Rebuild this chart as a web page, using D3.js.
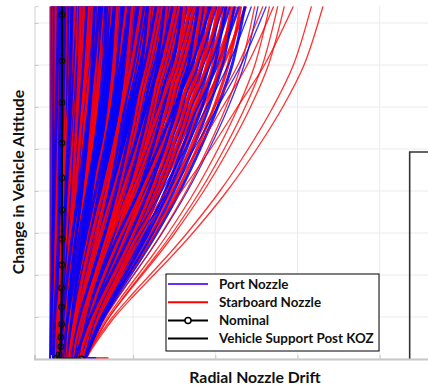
<!DOCTYPE html>
<html>
<head>
<meta charset="utf-8">
<script src="https://cdn.jsdelivr.net/npm/d3@7"></script>
<style>
  body { margin: 0; background: #fff; }
  svg { display: block; }
</style>
</head>
<body>
<svg id="chart"></svg>
<script>
// altitude levels where every trajectory is sampled
const altitudeLevels = [0, 0.25, 0.5, 1, 1.5, 2, 2.5, 3, 4, 5, 6, 7, 8.4];
// fraction of the total drift reached at each level: 0 = early lean, 1 = late lean
const driftShapes = [
  [0, 0.025, 0.055, 0.12, 0.20, 0.285, 0.37, 0.45, 0.595, 0.72, 0.83, 0.92, 1],
  [0, 0.01, 0.025, 0.065, 0.115, 0.175, 0.24, 0.31, 0.46, 0.60, 0.73, 0.86, 1]
];

// [drift at lift-off, drift at top of plot, shape]
const portRuns = [[0.00,0.00,0],[0.03,0.02,1],[0.01,0.04,0],[0.06,0.05,1],[0.02,0.07,0],[0.00,0.09,1],[0.04,0.10,0],[0.08,0.12,1],[0.01,0.14,0],[0.05,0.16,1],[0.03,0.17,0],[0.10,0.19,1],[0.02,0.21,0],[0.07,0.23,1],[0.00,0.25,0],[0.12,0.26,1],[0.04,0.28,0],[0.09,0.30,1],[0.06,0.32,0],[0.02,0.34,1],[0.11,0.35,0],[0.05,0.37,1],[0.14,0.39,0],[0.08,0.41,1],[0.03,0.43,0],[0.13,0.44,1],[0.07,0.46,0],[0.16,0.48,1],[0.10,0.50,0],[0.04,0.52,1],[0.15,0.53,0],[0.09,0.55,1],[0.18,0.57,0],[0.12,0.59,1],[0.06,0.61,0],[0.17,0.62,1],[0.11,0.64,0],[0.20,0.66,1],[0.14,0.68,0],[0.08,0.70,1],[0.19,0.71,0],[0.13,0.73,1],[0.22,0.75,0],[0.16,0.77,1],[0.10,0.79,0],[0.21,0.80,1],[0.15,0.82,0],[0.24,0.84,1],[0.18,0.86,0],[0.12,0.88,1],[0.23,0.89,0],[0.17,0.91,1],[0.26,0.93,0],[0.20,0.95,1],[0.14,0.97,0],[0.25,0.98,1],[0.19,1.00,0],[0.28,1.02,1],[0.22,1.04,0],[0.16,1.06,1],[0.27,1.07,0],[0.21,1.09,1],[0.30,1.11,0],[0.24,1.13,1],[0.18,1.15,0],[0.29,1.16,1],[0.23,1.18,0],[0.32,1.20,1],[0.26,1.22,0],[0.20,1.24,1],[0.31,1.26,0],[0.25,1.28,1],[0.34,1.30,0],[0.28,1.32,1],[0.22,1.34,0],[0.33,1.36,1],[0.27,1.38,0],[0.36,1.40,1],[0.30,1.42,0],[0.24,1.44,1],[0.35,1.46,0],[0.29,1.48,1],[0.38,1.50,0],[0.32,1.53,1],[0.26,1.55,0],[0.37,1.57,1],[0.31,1.59,0],[0.39,1.62,1],[0.34,1.64,0],[0.28,1.66,1],[0.38,1.69,0],[0.33,1.71,1],[0.40,1.74,0],[0.36,1.76,1],[0.30,1.79,0],[0.39,1.82,1],[0.35,1.85,0],[0.41,1.88,1],[0.37,1.91,0],[0.33,1.94,1],[0.40,1.97,0],[0.38,2.01,1],[0.42,2.05,0],[0.36,2.09,1],[0.41,2.13,0],[0.39,2.18,1],[0.42,2.23,0],[0.40,2.29,1],[0.41,2.36,0],[0.42,2.44,1],[0.40,2.52,0],[0.42,2.62,1]];
const starboardRuns = [[0.02,0.01,1],[0.00,0.03,0],[0.05,0.06,1],[0.01,0.08,0],[0.07,0.11,1],[0.03,0.13,0],[0.00,0.15,1],[0.09,0.18,0],[0.04,0.20,1],[0.02,0.22,0],[0.11,0.24,1],[0.06,0.27,0],[0.01,0.29,1],[0.10,0.31,0],[0.05,0.33,1],[0.13,0.36,0],[0.08,0.38,1],[0.03,0.40,0],[0.12,0.42,1],[0.07,0.45,0],[0.15,0.47,1],[0.10,0.49,0],[0.05,0.51,1],[0.14,0.54,0],[0.09,0.56,1],[0.17,0.58,0],[0.12,0.60,1],[0.07,0.63,0],[0.16,0.65,1],[0.11,0.67,0],[0.19,0.69,1],[0.14,0.72,0],[0.09,0.74,1],[0.18,0.76,0],[0.13,0.78,1],[0.21,0.81,0],[0.16,0.83,1],[0.11,0.85,0],[0.20,0.87,1],[0.15,0.90,0],[0.23,0.92,1],[0.18,0.94,0],[0.13,0.96,1],[0.22,0.99,0],[0.17,1.01,1],[0.25,1.03,0],[0.20,1.05,1],[0.15,1.08,0],[0.24,1.10,1],[0.19,1.12,0],[0.27,1.14,1],[0.22,1.17,0],[0.17,1.19,1],[0.26,1.21,0],[0.21,1.23,1],[0.29,1.25,0],[0.24,1.27,1],[0.19,1.29,0],[0.28,1.31,1],[0.23,1.33,0],[0.31,1.35,1],[0.26,1.37,0],[0.21,1.39,1],[0.30,1.41,0],[0.25,1.43,1],[0.33,1.45,0],[0.28,1.47,1],[0.23,1.49,0],[0.32,1.52,1],[0.27,1.54,0],[0.35,1.56,1],[0.30,1.58,0],[0.25,1.61,1],[0.34,1.63,0],[0.29,1.65,1],[0.37,1.68,0],[0.32,1.70,1],[0.27,1.73,0],[0.36,1.75,1],[0.31,1.78,0],[0.39,1.80,1],[0.34,1.83,0],[0.29,1.86,1],[0.38,1.89,0],[0.33,1.92,1],[0.40,1.95,0],[0.36,1.99,1],[0.31,2.03,0],[0.39,2.07,1],[0.35,2.11,0],[0.41,2.15,1],[0.38,2.20,0],[0.42,2.25,1],[0.40,2.31,0],[0.41,2.37,1],[0.42,2.48,0],[0.40,2.58,1],[0.42,2.66,0],[0.41,2.71,1],[0.43,2.76,0],[0.42,2.84,0],[0.43,2.95,1],[0.42,3.17,0],[0.43,3.31,0]];

// short slide along the pad before lift-off
const padSlidePort = [0.25, 0.55];
const padSlideStarboard = [0.30, 0.70];

// nominal trajectory (markers)
const nominalAltitude = [0, 0.02, 0.1, 0.29, 0.52, 0.83, 1.24, 1.69, 2.24, 2.86, 3.55, 4.31, 5.14, 6.1, 7.1, 8.19, 8.4];
const nominalDrift = [0.37, 0.075, 0.10, 0.12, 0.12, 0.13, 0.13, 0.13, 0.135, 0.135, 0.135, 0.135, 0.135, 0.135, 0.135, 0.135, 0.135];

// keep-out zone corner of the vehicle support post
const kozDrift = 4.365;
const kozAltitude = 4.93;

const xTicks = [0, 1, 2, 3, 4, 5];
const yTicks = [0, 1, 2, 3, 4, 5, 6, 7, 8];

const legendItems = ['Port Nozzle', 'Starboard Nozzle', 'Nominal', 'Vehicle Support Post KOZ'];

const W = 428, H = 389;
const PLOT = { left: 34.5, right: 452, top: 6.2, bottom: 359 };
const BLUE = '#0000ff', RED = '#ff0000';
const FONT = 'Lato, "Open Sans", sans-serif';
const DENSE_EDGE = 2.4; // runs beyond this drift are the thin stragglers

const svg = d3.select('#chart').attr('width', W).attr('height', H);

const x = d3.scaleLinear().domain([-0.2, 4.88]).range([PLOT.left, PLOT.right]);
const y = d3.scaleLinear().domain([0, 8.4]).range([PLOT.bottom, PLOT.top]);

svg.append('clipPath').attr('id', 'plot-clip')
  .append('rect')
  .attr('x', PLOT.left).attr('y', PLOT.top)
  .attr('width', PLOT.right - PLOT.left).attr('height', PLOT.bottom - PLOT.top);

// grid
const grid = svg.append('g');
grid.selectAll('line.gx').data(xTicks).enter().append('line')
  .attr('x1', d => x(d)).attr('x2', d => x(d))
  .attr('y1', PLOT.top).attr('y2', PLOT.bottom)
  .attr('stroke', '#ebebeb').attr('stroke-width', 1);
grid.selectAll('line.gy').data(yTicks).enter().append('line')
  .attr('x1', PLOT.left).attr('x2', PLOT.right)
  .attr('y1', d => y(d)).attr('y2', d => y(d))
  .attr('stroke', '#ebebeb').attr('stroke-width', 1);

// trajectories; drawing order is mixed with a fixed stride so neither colour sits on top everywhere
const allRuns = portRuns.map(r => ({ color: BLUE, run: r }))
  .concat(starboardRuns.map(r => ({ color: RED, run: r })));
const n = allRuns.length;
const runs = d3.range(n).map(i => allRuns[(i * 61) % n]);

const trajLine = d3.line()
  .x(d => x(d.drift))
  .y(d => y(d.alt))
  .curve(d3.curveCatmullRom);

const traj = svg.append('g').attr('clip-path', 'url(#plot-clip)');

traj.append('line')
  .attr('x1', x(padSlideStarboard[0])).attr('x2', x(padSlideStarboard[1]))
  .attr('y1', y(0) - 1).attr('y2', y(0) - 1)
  .attr('stroke', RED).attr('stroke-width', 1.5);
traj.append('line')
  .attr('x1', x(padSlidePort[0])).attr('x2', x(padSlidePort[1]))
  .attr('y1', y(0) - 1).attr('y2', y(0) - 1)
  .attr('stroke', BLUE).attr('stroke-width', 1.5);

traj.selectAll('path.run').data(runs).enter().append('path')
  .attr('fill', 'none')
  .attr('stroke', d => d.color)
  .attr('stroke-width', d => d.run[1] > DENSE_EDGE ? 1.3 : 2.9)
  .attr('stroke-opacity', d => d.run[1] > DENSE_EDGE ? 0.8 : 0.88)
  .attr('d', d => {
    const shape = driftShapes[d.run[2]];
    return trajLine(altitudeLevels.map((a, k) => ({
      alt: a,
      drift: d.run[0] + (d.run[1] - d.run[0]) * shape[k]
    })));
  });

// nominal
const nominal = nominalAltitude.map((a, i) => ({ alt: a, drift: nominalDrift[i] }));
traj.append('path')
  .attr('fill', 'none').attr('stroke', '#000').attr('stroke-width', 2)
  .attr('d', d3.line().x(d => x(d.drift)).y(d => y(d.alt))(nominal));
traj.selectAll('circle.nom').data(nominal.slice(0, -1)).enter().append('circle')
  .attr('cx', d => x(d.drift)).attr('cy', d => y(d.alt))
  .attr('r', 2.8)
  .attr('fill', 'none').attr('stroke', '#111').attr('stroke-width', 1.3);

// KOZ
svg.append('path')
  .attr('fill', 'none').attr('stroke', '#333').attr('stroke-width', 1.6)
  .attr('d', d3.line()([[x(kozDrift), y(0)], [x(kozDrift), y(kozAltitude)], [x(5.5), y(kozAltitude)]]));

// axes
svg.append('g')
  .attr('transform', `translate(${PLOT.left},0)`)
  .call(d3.axisLeft(y).tickValues(yTicks).tickSize(-4).tickFormat(''))
  .call(g => g.selectAll('line').attr('stroke', '#c8c8c8'))
  .call(g => g.select('.domain').attr('stroke', '#d0d0d0'));
svg.append('g')
  .attr('transform', `translate(0,${PLOT.bottom})`)
  .call(d3.axisBottom(x).tickValues(xTicks).tickSize(-4).tickFormat(''))
  .call(g => g.selectAll('line').attr('stroke', '#c8c8c8'))
  .call(g => g.select('.domain').attr('stroke', '#c8c8c8').attr('stroke-width', 2));

// axis titles
svg.append('text')
  .attr('transform', 'translate(24,182) rotate(-90)')
  .attr('text-anchor', 'middle')
  .attr('font-family', FONT).attr('font-weight', 700).attr('font-size', 15.8)
  .attr('fill', '#111')
  .text('Change in Vehicle Altitude');
svg.append('text')
  .attr('x', 255).attr('y', 383)
  .attr('text-anchor', 'middle')
  .attr('font-family', FONT).attr('font-weight', 700).attr('font-size', 15.8)
  .attr('fill', '#111')
  .text('Radial Nozzle Drift');

// legend
const lg = svg.append('g').attr('transform', 'translate(166,274)');
lg.append('rect').attr('width', 213).attr('height', 77)
  .attr('fill', '#fff').attr('stroke', '#000').attr('stroke-width', 1);
const rows = lg.selectAll('g.row').data(legendItems).enter().append('g')
  .attr('transform', (d, i) => `translate(0,${10 + i * 18.2})`);
rows.append('line')
  .attr('x1', 2).attr('x2', 42).attr('y1', 0).attr('y2', 0)
  .attr('stroke', (d, i) => ['#6a2bff', RED, '#000', '#000'][i])
  .attr('stroke-width', 2);
rows.filter((d, i) => i === 2).append('circle')
  .attr('cx', 22).attr('cy', 0).attr('r', 3)
  .attr('fill', '#fff').attr('stroke', '#000').attr('stroke-width', 1.5);
rows.append('text')
  .attr('x', 53).attr('y', 4.5)
  .attr('font-family', FONT).attr('font-weight', 700).attr('font-size', 13.4)
  .attr('fill', '#111')
  .text(d => d);
</script>
</body>
</html>
